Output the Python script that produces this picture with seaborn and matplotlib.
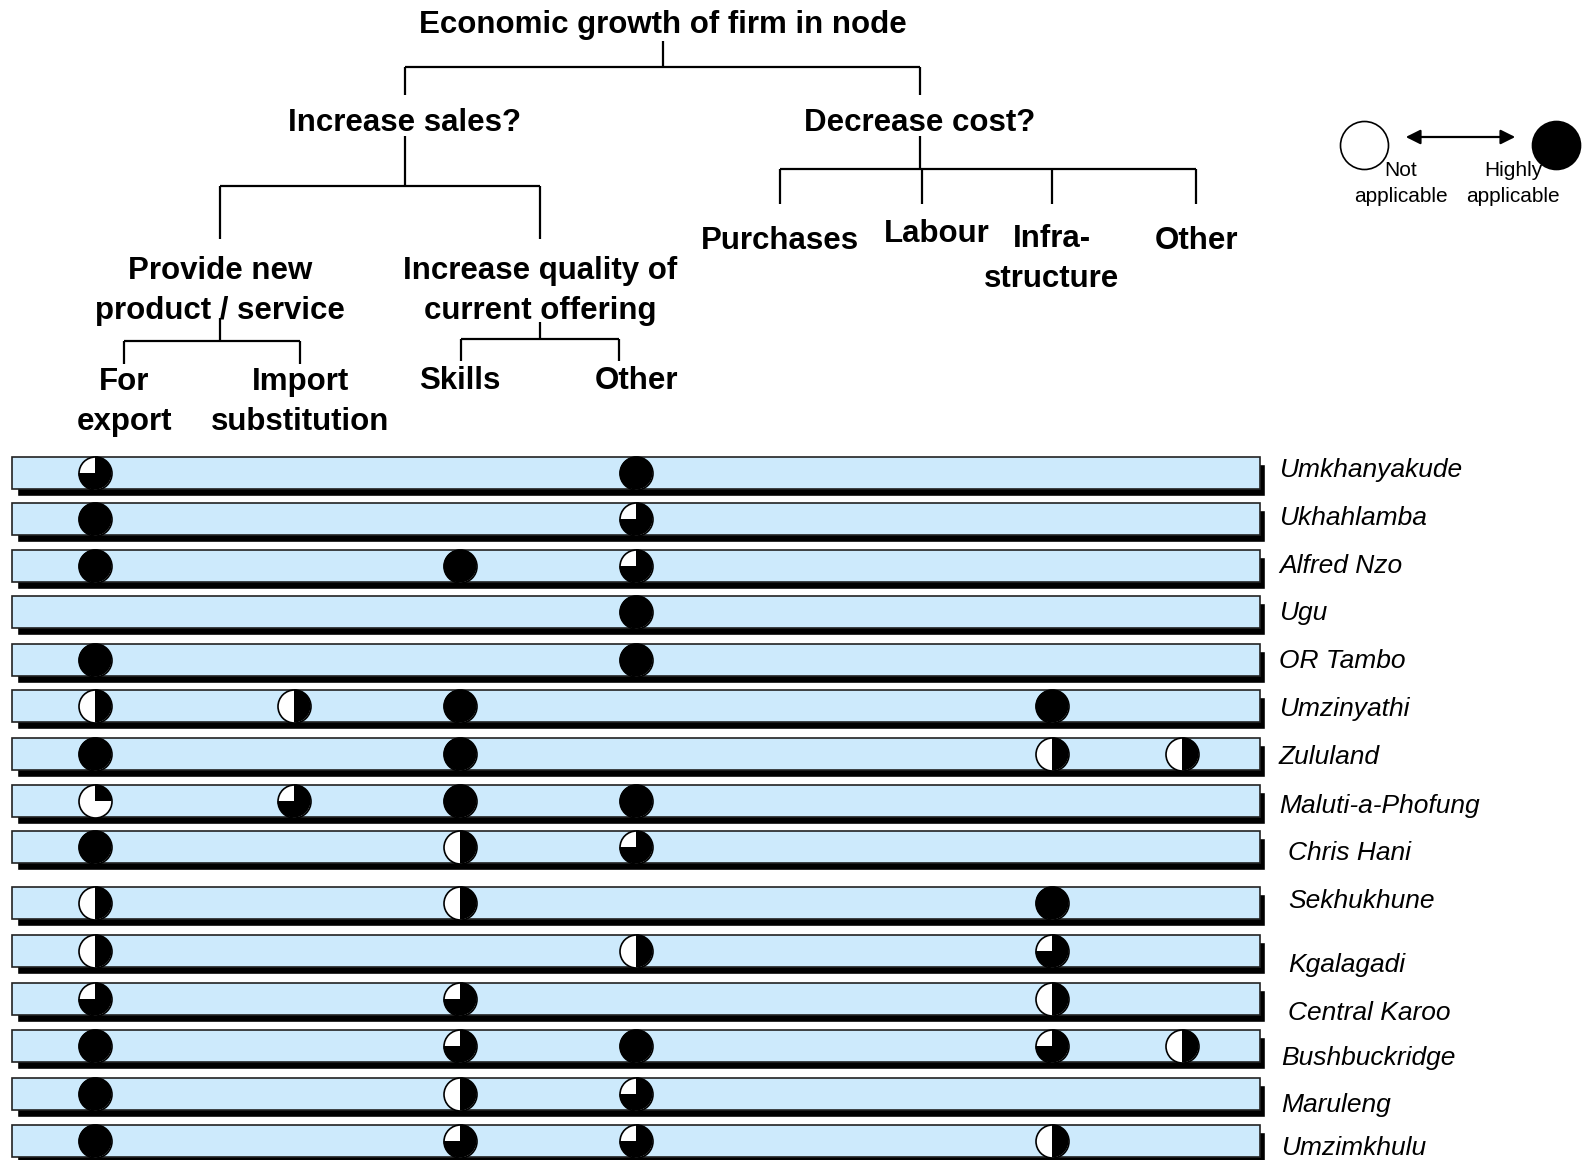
import numpy as np
import pandas as pd
import matplotlib.pyplot as plt
import matplotlib.patches as mpatches
import seaborn as sns

# -------------------------------
# Data: applicability per region (fraction of ball filled, None = blank)
# -------------------------------
regions = ["Umkhanyakude", "Ukhahlamba", "Alfred Nzo", "Ugu", "OR Tambo",
           "Umzinyathi", "Zululand", "Maluti-a-Phofung", "Chris Hani",
           "Sekhukhune", "Kgalagadi", "Central Karoo", "Bushbuckridge",
           "Maruleng", "Umzimkhulu"]

for_export    = [0.75, 1, 1, None, 1, 0.5, 1, 0.25, 1, 0.5, 0.5, 0.75, 1, 1, 1]
import_subst  = [None, None, None, None, None, 0.5, None, 0.75, None, None, None, None, None, None, None]
skills        = [None, None, 1, None, None, 1, 1, 1, 0.5, 0.5, None, 0.75, 0.75, 0.5, 0.75]
quality_other = [1, 0.75, 0.75, 1, 1, None, None, 1, 0.75, None, 0.5, None, 1, 0.75, 0.75]
purchases     = [None] * 15
labour        = [None] * 15
infra         = [None, None, None, None, None, 1, 0.5, None, None, 1, 0.75, 0.5, 0.75, None, 0.5]
cost_other    = [None, None, None, None, None, None, 0.5, None, None, None, None, None, 0.5, None, None]

criteria = ["For export", "Import substitution", "Skills", "Quality other",
            "Purchases", "Labour", "Infrastructure", "Cost other"]

# -------------------------------
# Layout (pixel positions)
# -------------------------------
col_x = [95, 294, 460, 636, 780, 922, 1052, 1182]
row_y = [473, 519, 566, 612, 660, 706, 754, 801, 847, 903, 951, 999, 1046, 1094, 1141]
label_x = [1279, 1279, 1279, 1279, 1279, 1279, 1279, 1279, 1288, 1288, 1288, 1288, 1281, 1281, 1281]
label_y = [470, 518, 566, 613, 661, 709, 757, 806, 853, 901, 965, 1013, 1058, 1105, 1148]

BAR_X0, BAR_X1, BAR_H = 12, 1260, 32
BALL_D = 33
BAR_COLOR = "#cdeafc"

rows = []
for col, vals in zip(criteria, [for_export, import_subst, skills, quality_other,
                                purchases, labour, infra, cost_other]):
    for i, v in enumerate(vals):
        if v is not None:
            rows.append({"region": regions[i], "criterion": col, "score": v,
                         "x": col_x[criteria.index(col)], "y": row_y[i]})
df = pd.DataFrame(rows)

# -------------------------------
# Figure
# -------------------------------
sns.set_theme(style="white")
plt.rcParams["font.family"] = ["Liberation Sans", "DejaVu Sans"]
plt.rcParams["text.color"] = "black"

fig = plt.figure(figsize=(15.95, 11.6), dpi=100)
ax = fig.add_axes([0, 0, 1, 1])

# shadow bars then bars
ax.barh([y + 7 for y in row_y], BAR_X1 - BAR_X0, left=BAR_X0 + 5, height=BAR_H,
        color="black", zorder=1)
ax.barh(row_y, BAR_X1 - BAR_X0, left=BAR_X0, height=BAR_H, color=BAR_COLOR,
        edgecolor="#222222", linewidth=1.2, zorder=2)

# ball bases (white with black outline)
size_pt = BALL_D * 72 / 100
sns.scatterplot(data=df, x="x", y="y", s=size_pt ** 2, color="white",
                edgecolor="black", linewidth=1.2, zorder=3, legend=False, ax=ax)
ax.set_xlim(0, 1595)
ax.set_ylim(1160, 0)
ax.axis("off")

# black fill, clockwise from 12 o'clock
for _, r in df.iterrows():
    ax.add_patch(mpatches.Wedge((r["x"], r["y"]), BALL_D / 2, 270, 270 + 360 * r["score"],
                                facecolor="black", edgecolor="none", zorder=4))

# region labels
for name, lx, ly in zip(regions, label_x, label_y):
    ax.text(lx, ly, name, fontsize=19, style="italic", va="center", ha="left")

# -------------------------------
# Tree header
# -------------------------------
lw = 1.6
def seg(x0, y0, x1, y1):
    ax.plot([x0, x1], [y0, y1], color="black", lw=lw, solid_capstyle="butt")

bold = dict(fontsize=22.5, fontweight="bold", ha="center", va="center", linespacing=1.4)
ax.text(663, 25, "Economic growth of firm in node", **bold)
seg(663, 41, 663, 67); seg(405, 67, 920, 67)
seg(405, 67, 405, 95); seg(920, 67, 920, 95)

ax.text(405, 123, "Increase sales?", **bold)
ax.text(920, 123, "Decrease cost?", **bold)

seg(405, 136, 405, 186); seg(220, 186, 540, 186)
seg(220, 186, 220, 239); seg(540, 186, 540, 239)
ax.text(220, 291, "Provide new\nproduct / service", **bold)
ax.text(540, 291, "Increase quality of\ncurrent offering", **bold)

seg(220, 318, 220, 341); seg(124, 341, 300, 341)
seg(124, 341, 124, 364); seg(300, 341, 300, 364)
seg(540, 322, 540, 339); seg(461, 339, 619, 339)
seg(461, 339, 461, 361); seg(619, 339, 619, 361)
ax.text(124, 402, "For\nexport", **bold)
ax.text(300, 402, "Import\nsubstitution", **bold)
ax.text(460, 381, "Skills", **bold)
ax.text(636, 381, "Other", **bold)

seg(920, 136, 920, 169); seg(780, 169, 1196, 169)
for x in [780, 922, 1052, 1196]:
    seg(x, 169, x, 204)
ax.text(780, 241, "Purchases", **bold)
ax.text(937, 234, "Labour", **bold)
ax.text(1052, 259, "Infra-\nstructure", **bold)
ax.text(1196, 241, "Other", **bold)

# -------------------------------
# Legend
# -------------------------------
leg_pt = 48 * 72 / 100
ax.scatter([1364], [145], s=leg_pt ** 2, color="white", edgecolor="black", linewidth=1.2, zorder=3)
ax.scatter([1556], [145], s=leg_pt ** 2, color="black", edgecolor="black", linewidth=1.2, zorder=3)
ax.annotate("", xy=(1518, 137), xytext=(1403, 137),
            arrowprops=dict(arrowstyle="<|-|>", color="black", lw=1.6, mutation_scale=22))
ax.text(1401, 171, "Not", fontsize=15, ha="center", va="center", zorder=5)
ax.text(1401, 197, "applicable", fontsize=15, ha="center", va="center")
ax.text(1513, 171, "Highly", fontsize=15, ha="center", va="center", zorder=5)
ax.text(1513, 197, "applicable", fontsize=15, ha="center", va="center")

plt.savefig("out.png", dpi=100)
plt.close()
